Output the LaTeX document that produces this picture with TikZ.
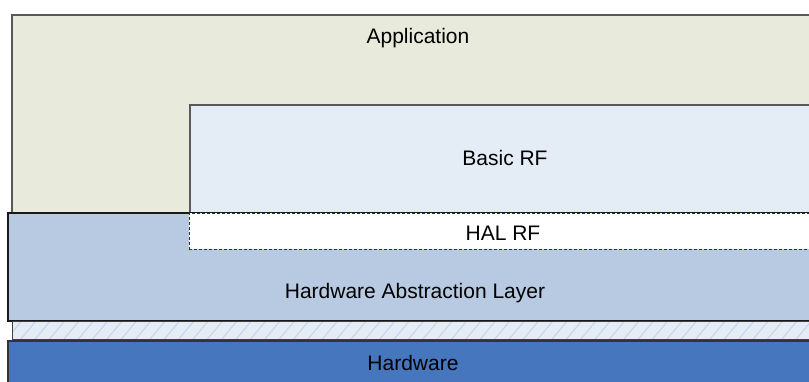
\documentclass[tikz,border=0pt]{standalone}
\usepackage{fontspec}
\setmainfont{Liberation Sans}
\usetikzlibrary{patterns.meta}

\definecolor{appfill}{HTML}{E8EADC}
\definecolor{rffill}{HTML}{E4ECF6}
\definecolor{halfill}{HTML}{B8CAE2}
\definecolor{hwfill}{HTML}{4677BE}
\definecolor{hatchline}{HTML}{C6D3E6}
\definecolor{rfdash}{HTML}{1A1AE6}

\tikzset{
  layer/.style={draw=black!65, line width=1.2pt, anchor=north west, inner sep=0pt, outer sep=0pt},
  caption/.style={font=\fontsize{21}{25}\selectfont, inner sep=0pt}
}

\begin{document}
\begin{tikzpicture}[x=1pt, y=-1pt]
\useasboundingbox (0,0) rectangle (809,381);
\clip (0,0) rectangle (809,381);
    % stack of layers, top to bottom
    \node[layer, fill=appfill, minimum width=820pt, minimum height=198pt] (app) at (12,15) {};
    \node[layer, fill=rffill, minimum width=640pt, minimum height=108pt] (basicrf) at (190,105) {};
    \node[layer, draw=black!90, line width=1.8pt, fill=halfill, minimum width=820pt, minimum height=108pt] (hal) at (8,213) {};
    \node[layer, draw=rfdash, line width=1pt, dash pattern=on 3pt off 2pt, fill=white, minimum width=640pt, minimum height=36pt] (halrf) at (189,213) {};
    \node[layer, draw=black!75, line width=1pt, fill=rffill, minimum width=820pt, minimum height=18pt] (gap) at (12,321) {};
    \fill[pattern={Lines[angle=50, distance=11pt, line width=1pt]}, pattern color=hatchline]
      (gap.north west) rectangle (gap.south east);
    \draw[black!75, line width=1pt] (gap.north west) rectangle (gap.south east);
    \node[layer, draw=black!80, line width=1.5pt, fill=hwfill, minimum width=820pt, minimum height=60pt] (hw) at (8,341) {};
    % labels
    \node[caption] (applbl) at (418,38) {Application};
    \node[caption] (basiclbl) at (505,158) {Basic RF};
    \node[caption] (halrflbl) at (503,233) {HAL RF};
    \node[caption] (hallbl) at (415,293) {Hardware Abstraction Layer};
    \node[caption] (hwlbl) at (413,363) {Hardware};
\end{tikzpicture}
\end{document}
